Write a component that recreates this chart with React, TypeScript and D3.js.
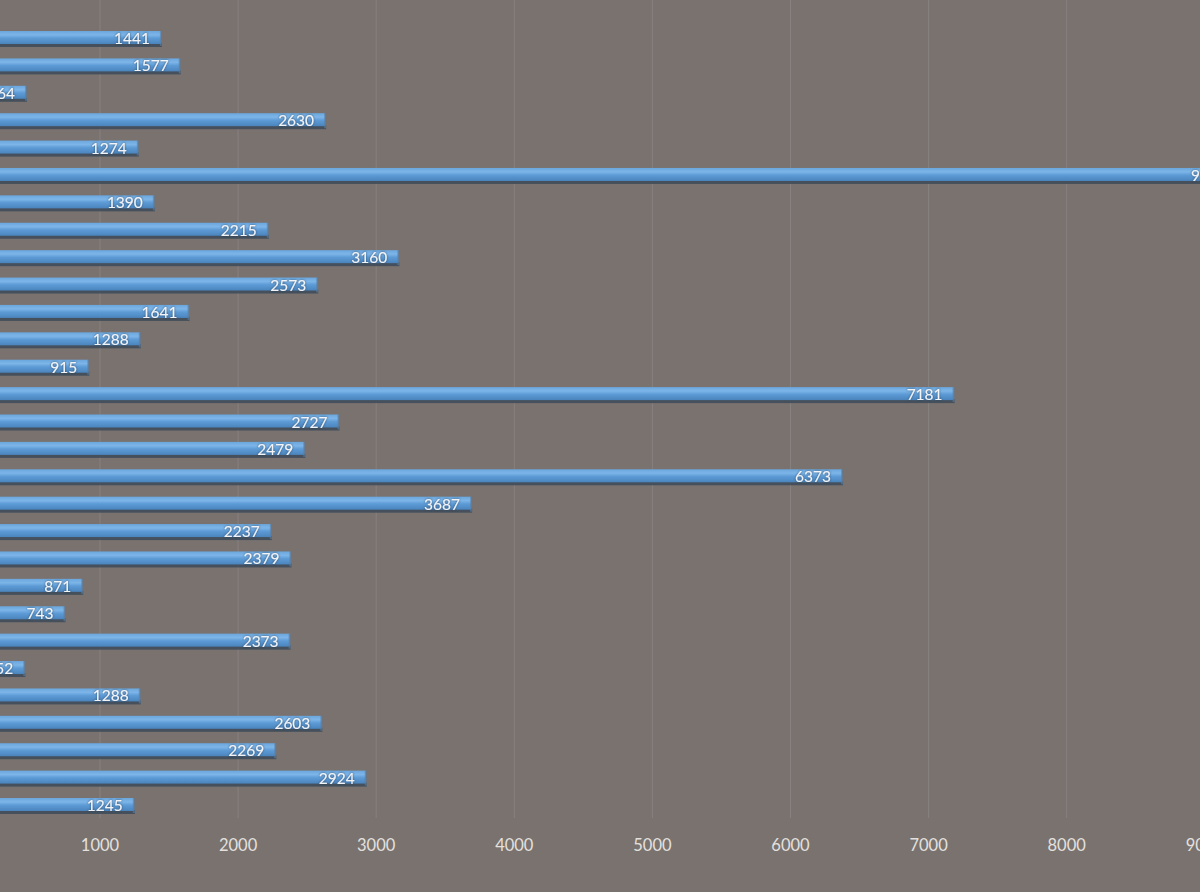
import React from "react";
import * as d3 from "d3";

const categories: string[] = [
  "r1","r2","r3","r4","r5","r6","r7","r8","r9","r10",
  "r11","r12","r13","r14","r15","r16","r17","r18","r19","r20",
  "r21","r22","r23","r24","r25","r26","r27","r28","r29",
];
const values: number[] = [
  1441, 1577, 464, 2630, 1274, 9240, 1390, 2215, 3160, 2573,
  1641, 1288, 915, 7181, 2727, 2479, 6373, 3687, 2237, 2379,
  871, 743, 2373, 452, 1288, 2603, 2269, 2924, 1245,
];
const tickValues: number[] = [1000, 2000, 3000, 4000, 5000, 6000, 7000, 8000, 9000];

const W = 1200;
const H = 892;

export default function App() {
  const x = d3.scaleLinear().domain([0, 1000]).range([-38.1, 100]);
  const step = (806 - 39) / 28;
  const y = d3
    .scaleBand<string>()
    .domain(categories)
    .range([39 - step / 2, 806 + step / 2])
    .padding(0);
  const bw = y.bandwidth();
  const font = "Lato, 'Open Sans', sans-serif";

  return (
    <div style={{ position: "absolute", left: 0, top: 0, width: W, height: H }}>
      <svg width={W} height={H} style={{ display: "block" }}>
        <defs>
          <linearGradient id="barG" x1="0" y1="0" x2="0" y2="1">
            <stop offset="0" stopColor="#6aa6dd" />
            <stop offset="0.3" stopColor="#7db5e8" />
            <stop offset="0.55" stopColor="#5d9bd6" />
            <stop offset="1" stopColor="#4a84bd" />
          </linearGradient>
          <filter id="lblShadow" x="-20%" y="-40%" width="140%" height="180%">
            <feDropShadow dx="0" dy="0" stdDeviation="1" floodColor="#2b3e55" floodOpacity="0.9" />
          </filter>
        </defs>
        <rect x={0} y={0} width={W} height={H} fill="#79726f" />
        {tickValues.map((t) => (
          <line
            key={"g" + t}
            x1={x(t)}
            x2={x(t)}
            y1={0}
            y2={818}
            stroke="#878080"
            strokeWidth={1}
          />
        ))}
        {categories.map((c, i) => {
          const cy = (y(c) as number) + bw / 2;
          const x0 = x(0);
          const x1 = x(values[i]);
          return (
            <g key={c}>
              <rect x={x0} y={cy + 4} width={x1 - x0 + 1} height={4} fill="#3f4c5a" opacity={0.9} />
              <rect x={x0} y={cy - 8} width={x1 - x0} height={13} fill="url(#barG)" />
              <rect x={x1 - 1} y={cy - 8} width={2} height={15} fill="#5a7ea3" opacity={0.6} />
              <text
                x={x1 - 11}
                y={cy - 1}
                textAnchor="end"
                dominantBaseline="central"
                fill="#f2f4f8"
                fontFamily={font}
                fontSize={15.5}
                filter="url(#lblShadow)"
              >
                {values[i]}
              </text>
            </g>
          );
        })}
        {tickValues.map((t) => (
          <text
            key={"t" + t}
            x={x(t)}
            y={845}
            textAnchor="middle"
            dominantBaseline="central"
            fill="#e4e0de"
            fontFamily={font}
            fontSize={16.5}
          >
            {t}
          </text>
        ))}
      </svg>
    </div>
  );
}
